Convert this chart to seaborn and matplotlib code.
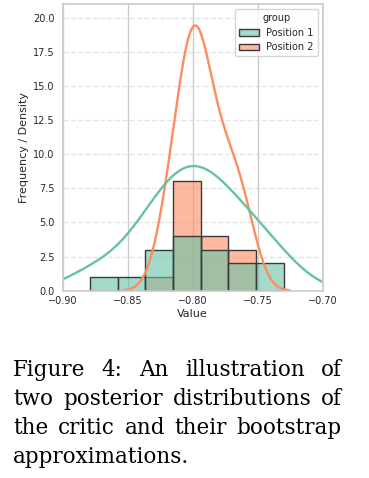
import pandas as pd
import seaborn as sns
import matplotlib.pyplot as plt

# bootstrap samples
pos1 = [-0.879, -0.850, -0.835, -0.826, -0.818, -0.814, -0.806, -0.800,
        -0.7955, -0.792, -0.783, -0.774, -0.770, -0.755, -0.748, -0.730]
pos2 = [-0.822, -0.814, -0.810, -0.806, -0.803, -0.800, -0.798, -0.796,
        -0.7945, -0.791, -0.786, -0.781, -0.776, -0.770, -0.764, -0.757]
groups = ['Position 1', 'Position 2']

caption = ['Figure 4:  An illustration of',
           'two posterior distributions of',
           'the critic and their bootstrap',
           'approximations.']

df = pd.DataFrame({'Value': pos1 + pos2,
                   'group': [groups[0]] * len(pos1) + [groups[1]] * len(pos2)})

sns.set_theme(style='whitegrid')
pal = sns.color_palette('Set2', 2)

fig = plt.figure(figsize=(3.69, 4.78), dpi=100)
ax = fig.add_axes([0.170, 0.392, 0.7045, 0.5996])

sns.histplot(data=df, x='Value', hue='group', bins=7, palette=pal,
             alpha=0.6, edgecolor='#3a3a3a', linewidth=1, ax=ax)
sns.kdeplot(data=df, x='Value', hue='group', common_norm=False, palette=pal,
            linewidth=1.7, legend=False, ax=ax)

ax.set_xlim(-0.9, -0.7)
ax.set_ylim(0, 21)
ax.set_xticks([-0.9, -0.85, -0.8, -0.75, -0.7])
ax.set_yticks([0, 2.5, 5, 7.5, 10, 12.5, 15, 17.5, 20])
ax.grid(axis='y', linestyle='--', alpha=0.5)
ax.set_ylabel('Frequency / Density', fontsize=8, labelpad=3)
ax.set_xlabel('Value', fontsize=8, labelpad=2)
ax.tick_params(labelsize=7, length=0)
ax.tick_params(axis='y', pad=6)
ax.tick_params(axis='x', pad=4)
sns.move_legend(ax, 'upper right', fontsize=7, title_fontsize=7)

# justified caption, word by word
renderer = fig.canvas.get_renderer()
W = fig.get_figwidth() * fig.dpi
H = fig.get_figheight() * fig.dpi
x0, x1 = 13, 342
base = 376
for i, line in enumerate(caption):
    y = 1 - (base + i * 29) / H
    words = line.split()
    txts = [fig.text(0, y, w, fontsize=15.5, family='DejaVu Serif',
                     color='black', va='baseline') for w in words]
    widths = [t.get_window_extent(renderer).width for t in txts]
    if i < len(caption) - 1 and len(words) > 1:
        gap = (x1 - x0 - sum(widths)) / (len(words) - 1)
    else:
        gap = 5
    x = x0
    for t, w in zip(txts, widths):
        t.set_x(x / W)
        x += w + gap

fig.savefig('out.png', dpi=100)
